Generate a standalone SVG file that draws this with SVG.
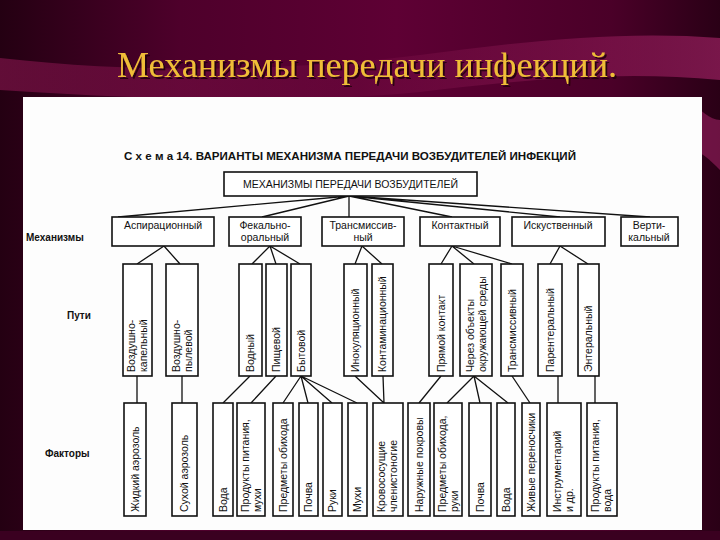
<svg xmlns="http://www.w3.org/2000/svg" width="720" height="540" viewBox="0 0 720 540">
<defs>
<linearGradient id="bg" x1="0" y1="0" x2="1" y2="0">
<stop offset="0" stop-color="#240012"/>
<stop offset="0.25" stop-color="#4e002b"/>
<stop offset="0.55" stop-color="#5e0034"/>
<stop offset="0.85" stop-color="#4a0028"/>
<stop offset="1" stop-color="#2a0016"/>
</linearGradient>
<linearGradient id="sw" x1="0" y1="0" x2="1" y2="0">
<stop offset="0" stop-color="#8a1650" stop-opacity="0.6"/>
<stop offset="0.5" stop-color="#7a1046" stop-opacity="0.3"/>
<stop offset="1" stop-color="#9a2060" stop-opacity="0.7"/>
</linearGradient>
<filter id="sh" x="-5%" y="-20%" width="110%" height="140%">
<feDropShadow dx="2" dy="2" stdDeviation="0.6" flood-color="#200008" flood-opacity="0.9"/>
</filter>
<style>
.t{font-family:"Liberation Sans",Arial,sans-serif;font-size:10.5px;fill:#111}
.tb{font-family:"Liberation Sans",Arial,sans-serif;font-size:10px;font-weight:bold;fill:#111}
.bx{fill:#fff;stroke:#111;stroke-width:1.6}
.ln{stroke:#111;stroke-width:1.3;fill:none}
</style>
</defs>
<rect width="720" height="540" fill="url(#bg)"/>
<path d="M0 58 C150 75 300 70 420 55 C520 42 620 30 720 38 L720 80 C620 70 520 80 420 92 C300 104 150 100 0 90 Z" fill="url(#sw)"/>
<path d="M690 100 C700 110 710 120 720 120 L720 170 C710 160 700 150 690 150 Z" fill="#9a2060" opacity="0.6"/>
<rect x="0" y="531" width="720" height="9" fill="#3a0020"/>
<text x="367" y="77" text-anchor="middle" font-family="'Liberation Serif','Times New Roman',serif" font-size="36" fill="#f0bd38" textLength="500" lengthAdjust="spacingAndGlyphs" filter="url(#sh)">Механизмы передачи инфекций.</text>
<rect x="23" y="97" width="679" height="433" fill="#fdfdfd"/>

<text x="124" y="160" class="tb" font-size="9.5" textLength="452" lengthAdjust="spacingAndGlyphs">С х е м а  14. ВАРИАНТЫ МЕХАНИЗМА ПЕРЕДАЧИ ВОЗБУДИТЕЛЕЙ ИНФЕКЦИЙ</text>
<text x="26" y="241" class="tb">Механизмы</text>
<text x="67" y="319" class="tb">Пути</text>
<text x="45" y="457" class="tb">Факторы</text>

<g id="connectors">
<path class="ln" d="M349 196 L118 217 M349 196 L262 217 M349 196 L349 217 M349 196 L452 217 M349 196 L560 217 M349 196 L650 217"/>
<path class="ln" d="M164 246 L137 264 M164 246 L180 264"/>
<path class="ln" d="M270 246 L252 264 M270 246 L276 264 M270 246 L300 264"/>
<path class="ln" d="M362 246 L355 264 M362 246 L382 264"/>
<path class="ln" d="M452 246 L441 264 M452 246 L474 264 M452 246 L512 264"/>
<path class="ln" d="M560 246 L550 264 M560 246 L588 264"/>
<path class="ln" d="M137 376 L137 403 M182 376 L182 403"/>
<path class="ln" d="M250 376 L223 403 M276 376 L251 403"/>
<path class="ln" d="M301 376 L283 403 M301 376 L308 403 M301 376 L332 403 M301 376 L357 403"/>
<path class="ln" d="M355 376 L384 403 M383 376 L384 403"/>
<path class="ln" d="M441 376 L419 403"/>
<path class="ln" d="M474 376 L447 403 M474 376 L480 403 M474 376 L508 403"/>
<path class="ln" d="M512 376 L530 403"/>
<path class="ln" d="M558 376 L558 403 M595 376 L595 403"/>
</g>

<g id="root"><rect class="bx" x="224" y="172" width="253" height="24"/><text class="t" x="350.5" y="188" text-anchor="middle" font-size="11">МЕХАНИЗМЫ ПЕРЕДАЧИ ВОЗБУДИТЕЛЕЙ</text></g>

<g id="m-asp"><rect class="bx" x="112" y="217" width="102" height="29"/><text class="t" x="163" y="229" text-anchor="middle">Аспирационный</text></g>
<g id="m-fek"><rect class="bx" x="229" y="217" width="72" height="29"/><text class="t" x="265" y="229" text-anchor="middle">Фекально-<tspan x="265" dy="12">оральный</tspan></text></g>
<g id="m-trans"><rect class="bx" x="322" y="217" width="82" height="29"/><text class="t" x="363" y="229" text-anchor="middle">Трансмиссив-<tspan x="363" dy="12">ный</tspan></text></g>
<g id="m-kont"><rect class="bx" x="420" y="217" width="80" height="29"/><text class="t" x="460" y="229" text-anchor="middle">Контактный</text></g>
<g id="m-isk"><rect class="bx" x="512" y="217" width="93" height="29"/><text class="t" x="558" y="229" text-anchor="middle">Искуственный</text></g>
<g id="m-vert"><rect class="bx" x="621" y="217" width="57" height="29"/><text class="t" x="649" y="229" text-anchor="middle">Верти-<tspan x="649" dy="12">кальный</tspan></text></g>

<g id="p1"><rect class="bx" x="123" y="264" width="29" height="112"/><text class="t" transform="rotate(-90)"><tspan x="-372" y="135">Воздушно-</tspan><tspan x="-372" y="147">капельный</tspan></text></g>
<g id="p2"><rect class="bx" x="166" y="264" width="32" height="112"/><text class="t" transform="rotate(-90)"><tspan x="-372" y="180">Воздушно-</tspan><tspan x="-372" y="192">пылевой</tspan></text></g>
<g id="p3"><rect class="bx" x="239" y="264" width="23" height="112"/><text class="t" transform="rotate(-90)" x="-372" y="254">Водный</text></g>
<g id="p4"><rect class="bx" x="266" y="264" width="21" height="112"/><text class="t" transform="rotate(-90)" x="-372" y="280">Пищевой</text></g>
<g id="p5"><rect class="bx" x="291" y="264" width="20" height="112"/><text class="t" transform="rotate(-90)" x="-372" y="305">Бытовой</text></g>
<g id="p6"><rect class="bx" x="344" y="264" width="23" height="112"/><text class="t" transform="rotate(-90)" x="-372" y="359">Инокуляционный</text></g>
<g id="p7"><rect class="bx" x="372" y="264" width="21" height="112"/><text class="t" transform="rotate(-90)" x="-372" y="386">Контаминационный</text></g>
<g id="p8"><rect class="bx" x="429" y="264" width="24" height="112"/><text class="t" transform="rotate(-90)" x="-372" y="445">Прямой контакт</text></g>
<g id="p9"><rect class="bx" x="460" y="264" width="32" height="112"/><text class="t" transform="rotate(-90)"><tspan x="-372" y="474">Через объекты</tspan><tspan x="-372" y="486">окружающей среды</tspan></text></g>
<g id="p10"><rect class="bx" x="501" y="264" width="22" height="112"/><text class="t" transform="rotate(-90)" x="-372" y="516">Трансмиссивный</text></g>
<g id="p11"><rect class="bx" x="538" y="264" width="24" height="112"/><text class="t" transform="rotate(-90)" x="-372" y="554">Парентеральный</text></g>
<g id="p12"><rect class="bx" x="578" y="264" width="21" height="112"/><text class="t" transform="rotate(-90)" x="-372" y="592">Энтеральный</text></g>

<g id="f1"><rect class="bx" x="124" y="403" width="22" height="113"/><text class="t" transform="rotate(-90)" x="-512" y="139">Жидкий аэрозоль</text></g>
<g id="f2"><rect class="bx" x="172" y="403" width="25" height="113"/><text class="t" transform="rotate(-90)" x="-512" y="188">Сухой аэрозоль</text></g>
<g id="f3"><rect class="bx" x="213" y="403" width="20" height="113"/><text class="t" transform="rotate(-90)" x="-512" y="227">Вода</text></g>
<g id="f4"><rect class="bx" x="237" y="403" width="28" height="113"/><text class="t" transform="rotate(-90)"><tspan x="-512" y="249">Продукты питания,</tspan><tspan x="-512" y="261">мухи</tspan></text></g>
<g id="f5"><rect class="bx" x="273" y="403" width="20" height="113"/><text class="t" transform="rotate(-90)" x="-512" y="287">Предметы обихода</text></g>
<g id="f6"><rect class="bx" x="299" y="403" width="19" height="113"/><text class="t" transform="rotate(-90)" x="-512" y="312">Почва</text></g>
<g id="f7"><rect class="bx" x="323" y="403" width="19" height="113"/><text class="t" transform="rotate(-90)" x="-512" y="336">Руки</text></g>
<g id="f8"><rect class="bx" x="348" y="403" width="19" height="113"/><text class="t" transform="rotate(-90)" x="-512" y="361">Мухи</text></g>
<g id="f9"><rect class="bx" x="373" y="403" width="30" height="113"/><text class="t" transform="rotate(-90)"><tspan x="-512" y="385">Кровососущие</tspan><tspan x="-512" y="397">членистоногие</tspan></text></g>
<g id="f10"><rect class="bx" x="408" y="403" width="22" height="113"/><text class="t" transform="rotate(-90)" x="-512" y="423">Наружные покровы</text></g>
<g id="f11"><rect class="bx" x="434" y="403" width="28" height="113"/><text class="t" transform="rotate(-90)"><tspan x="-512" y="446">Предметы обихода,</tspan><tspan x="-512" y="458">руки</tspan></text></g>
<g id="f12"><rect class="bx" x="469" y="403" width="22" height="113"/><text class="t" transform="rotate(-90)" x="-512" y="484">Почва</text></g>
<g id="f13"><rect class="bx" x="497" y="403" width="18" height="113"/><text class="t" transform="rotate(-90)" x="-512" y="510">Вода</text></g>
<g id="f14"><rect class="bx" x="522" y="403" width="18" height="113"/><text class="t" transform="rotate(-90)" x="-512" y="535">Живые переносчики</text></g>
<g id="f15"><rect class="bx" x="547" y="403" width="34" height="113"/><text class="t" transform="rotate(-90)"><tspan x="-512" y="561">Инструментарий</tspan><tspan x="-512" y="573">и др.</tspan></text></g>
<g id="f16"><rect class="bx" x="587" y="403" width="30" height="113"/><text class="t" transform="rotate(-90)"><tspan x="-512" y="599">Продукты питания,</tspan><tspan x="-512" y="611">вода</tspan></text></g>
</svg>
